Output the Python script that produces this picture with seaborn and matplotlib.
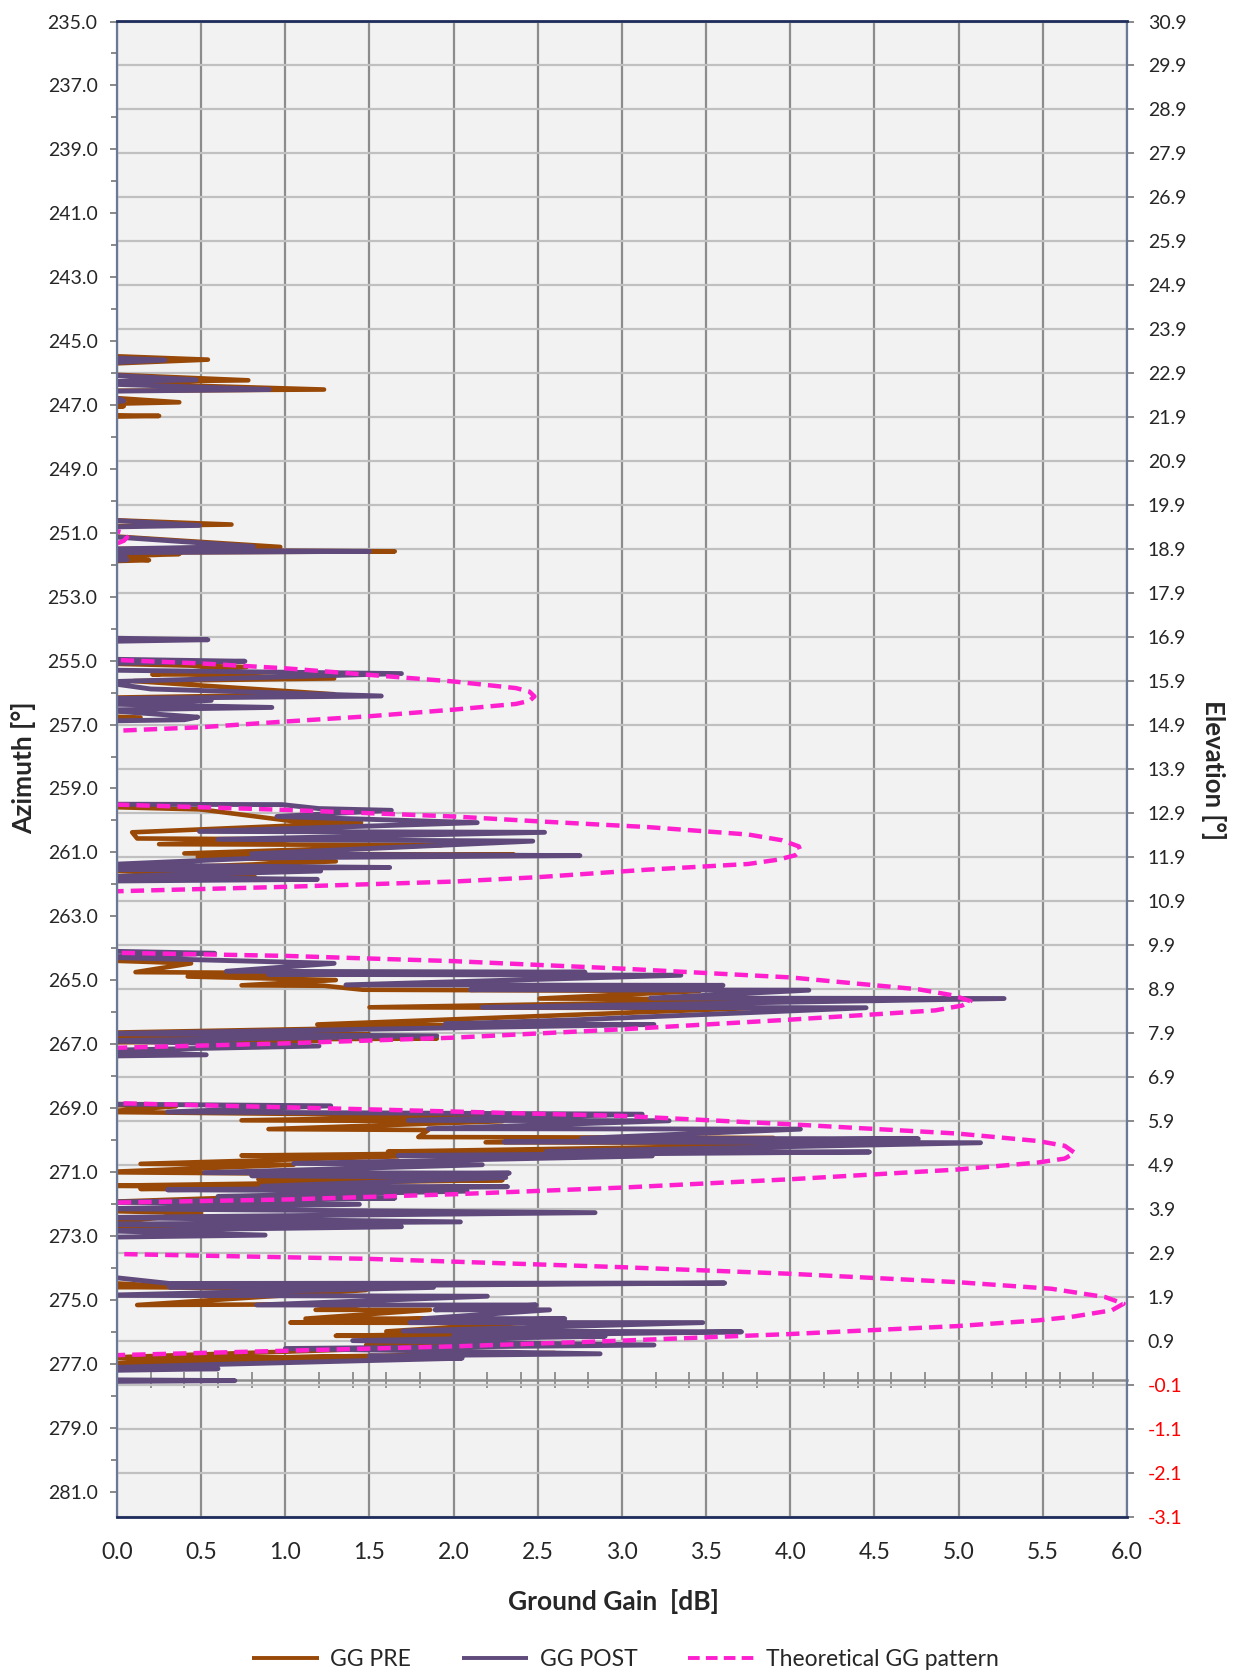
import numpy as np
import pandas as pd
import matplotlib
matplotlib.use("Agg")
import matplotlib.pyplot as plt
import seaborn as sns
from matplotlib.ticker import FixedLocator, FormatStrFormatter

# ground gain [dB] against elevation [deg], points in trace order
# (negative gains fall outside the plot area and are clipped, as in the source)
pre_gain = [
    -0.1, 0.54, -0.1, -0.1, 0.78, -0.1, -0.1, 1.23, -0.1, -0.1, 0.37, -0.1, 0.04, -0.1, -0.1, 0.25, -0.1,
    -0.6, -0.6,
    -0.1, 0.68, -0.1, -0.1, 0.97, -0.1, -0.1, 1.65, -0.1, 0.37, -0.1, 0.19, -0.1,
    -0.6, -0.6,
    -0.1, 0.77, 0.21, 0.42, 1.29, 0.10, 1.29, -0.1, -0.1, 0.14, -0.1,
    -0.6, -0.6,
    -0.1, 0.5, 1.03, 1.45, 0.09, 0.12, 1.1, 0.25, 1.93, 0.40, 2.36, 0.48, 1.3, -0.1, 0.82, -0.1,
    -0.6, -0.6,
    -0.1, 0.44, 0.11, 1.5, 0.42, 1.3, 0.74, 1.23, 1.46, 3.46, 2.51, 4.3, 1.50, 3.75, 1.19, 2.35,
    -0.1, 1.5, -0.1, 1.9, 0.3, 1.2, -0.1,
    -0.6, -0.6,
    -0.1, 0.35, -0.1, 2.29, 0.74, 2.29, 0.90, 1.85, 1.79, 3.9, 2.19, 4.75, 1.61, 2.53, 0.74, 1.67,
    0.14, 1.05, -0.1, 0.9, 0.84, 2.29, -0.1, 0.86, 0.14, 2.0, -0.1, 1.17, -0.1, 0.5, -0.1, 0.68, -0.1,
    -0.6, -0.6,
    -0.1, 0.31, 2.88, -0.1, 0.31, 1.48, 0.12, 1.48, 1.18, 1.86, 1.12, 1.85, 1.03, 2.4, 1.60, 2.9,
    1.30, 2.2, 1.48, 2.2, -0.1, 0.49, 2.0, -0.1, 0.49, 2.6,
]
pre_elev = [
    23.30, 23.21, 23.11, 22.88, 22.74, 22.70, 22.68, 22.53, 22.50, 22.36, 22.24, 22.20, 22.15, 22.10, 21.95, 21.93, 21.91,
    21.5, 19.7,
    19.57, 19.46, 19.42, 19.21, 18.95, 18.90, 18.88, 18.85, 18.82, 18.79, 18.72, 18.65, 18.62,
    18.4, 16.4,
    16.30, 16.22, 16.05, 16.05, 15.96, 15.90, 15.60, 15.52, 15.10, 15.07, 14.98,
    14.8, 13.1,
    13.04, 12.98, 12.72, 12.68, 12.46, 12.32, 12.30, 12.19, 12.17, 11.98, 11.95, 11.90, 11.80, 11.60, 11.44, 11.38,
    11.0, 9.6,
    9.55, 9.48, 9.28, 9.25, 9.18, 9.10, 8.98, 8.97, 8.88, 8.85, 8.68, 8.66, 8.48, 8.46, 8.09, 8.07,
    7.90, 7.86, 7.80, 7.77, 7.74, 7.72, 7.68,
    7.3, 6.3,
    6.26, 6.23, 6.10, 6.01, 5.91, 5.89, 5.71, 5.69, 5.53, 5.51, 5.41, 5.39, 5.20, 5.18, 5.11, 5.09,
    4.92, 4.90, 4.73, 4.70, 4.57, 4.55, 4.42, 4.40, 4.35, 4.32, 4.05, 4.02, 3.85, 3.80, 3.55, 3.51, 3.45,
    3.0, 2.3,
    2.22, 2.14, 2.20, 2.12, 2.11, 2.05, 1.71, 1.73, 1.60, 1.60, 1.40, 1.40, 1.31, 1.30, 1.11, 1.10,
    1.01, 1.00, 0.80, 0.80, 0.51, 0.50, 0.56, 0.37, 0.49, 0.62,
]

post_gain = [
    -0.1, 0.285, -0.1, -0.1, 0.47, -0.1, -0.1, 0.905, -0.1, 0.04, -0.1,
    -0.6, -0.6,
    -0.1, 0.49, -0.1, -0.1, 0.81, -0.1, -0.1, 1.50, -0.1, 0.05, -0.1, 0.06, -0.1,
    -0.6, -0.6,
    -0.1, 0.54, -0.1, -0.1, 0.76, -0.1, -0.1, 1.69, -0.1, 0.2, 1.57, -0.1, 0.56, -0.1, 0.92, -0.1, 0.48, 0.40, -0.1,
    -0.6, -0.6,
    -0.1, 0.98, 1.2, 1.63, 0.95, 2.14, 0.49, 2.54, 0.6, 2.47, 0.80, 2.75, 0.87, -0.1, 1.62, -0.1, 1.21, -0.1, 1.19, -0.1,
    -0.6, -0.6,
    -0.1, 0.58, -0.1, 1.29, 0.65, 2.78, 0.9, 3.35, 1.36, 3.60, 2.10, 4.11, 3.17, 5.27, 2.17, 4.45, 2.75, 1.95, 3.19,
    -0.1, 1.90, -0.1, 1.20, -0.1, 0.53, -0.1,
    -0.6, -0.6,
    -0.1, 1.27, 0.3, 3.12, 1.73, 3.28, 1.85, 4.06, 2.76, 4.76, 2.3, 5.13, 2.55, 4.47, 1.67, 3.18, 1.05, 2.17,
    0.52, 2.33, 0.8, 2.31, 0.86, 2.32, 0.3, 2.08, 0.6, 1.65, -0.1, 1.44, -0.1, 2.84, -0.1, 2.04, -0.1, 1.69,
    -0.1, 0.88, -0.1,
    -0.6, -0.6,
    -0.1, 0.31, 3.61, 0.31, 1.88, -0.1, 2.20, 0.83, 2.49, 1.89, 2.57, 1.82, 2.66, 1.74, 3.48, 1.7, 3.71,
    2.0, 2.9, 1.4, 3.19, 1.0, 2.87, 1.5, 2.05, 0.6, -0.1, 0.6, -0.1,
    -0.6, -0.1, 0.70, -0.1,
]
post_elev = [
    23.26, 23.20, 23.13, 22.87, 22.75, 22.71, 22.66, 22.53, 22.49, 22.27, 22.22,
    21.5, 19.7,
    19.57, 19.44, 19.40, 19.20, 18.96, 18.90, 18.88, 18.85, 18.82, 18.72, 18.69, 18.66, 18.63,
    18.4, 17.0,
    16.88, 16.84, 16.80, 16.40, 16.35, 16.30, 16.15, 16.07, 15.88, 15.72, 15.56, 15.50, 15.46, 15.38, 15.30, 15.24, 15.08, 15.02, 14.99,
    14.8, 13.2,
    13.10, 13.09, 13.00, 12.96, 12.82, 12.68, 12.48, 12.46, 12.30, 12.26, 11.97, 11.93, 11.88, 11.72, 11.66, 11.62, 11.58, 11.45, 11.39, 11.35,
    11.0, 9.8,
    9.76, 9.71, 9.62, 9.48, 9.30, 9.28, 9.23, 9.21, 8.99, 8.98, 8.88, 8.87, 8.69, 8.68, 8.48, 8.47, 8.20, 8.10, 8.09,
    7.88, 7.83, 7.72, 7.60, 7.50, 7.40, 7.37,
    7.0, 6.3,
    6.28, 6.24, 6.10, 6.05, 5.91, 5.90, 5.72, 5.71, 5.50, 5.49, 5.42, 5.40, 5.20, 5.19, 5.11, 5.10, 4.93, 4.90,
    4.72, 4.71, 4.65, 4.61, 4.41, 4.40, 4.33, 4.30, 4.18, 4.14, 4.05, 4.00, 3.90, 3.81, 3.70, 3.60, 3.55, 3.49,
    3.40, 3.30, 3.25,
    2.6, 2.4,
    2.37, 2.20, 2.21, 2.12, 2.11, 1.93, 1.91, 1.71, 1.71, 1.60, 1.60, 1.40, 1.40, 1.31, 1.31, 1.12, 1.10,
    1.01, 1.00, 0.90, 0.80, 0.72, 0.60, 0.55, 0.50, 0.36, 0.28, 0.26, 0.22,
    0.1, 0.01, -0.01, -0.03,
]

theo_gain = [
    -0.3, 0.0, 0.04, 0.06, 0.04, 0.0, -0.3,
    -0.3, 0.0, 0.5, 1.0, 1.5, 2.0, 2.37, 2.45, 2.48, 2.45, 2.37, 2.0, 1.5, 1.0, 0.5, 0.0, -0.3,
    -0.3, 0.0, 1.0, 2.0, 2.5, 3.15, 3.75, 3.95, 4.05, 4.06, 4.03, 3.93, 3.75, 3.15, 2.5, 2.0, 1.0, 0.0, -0.3,
    -0.3, 0.0, 1.0, 2.0, 3.0, 4.0, 4.76, 4.97, 5.07, 5.02, 4.86, 4.5, 4.0, 3.0, 2.0, 1.0, 0.0, -0.3,
    -0.3, 0.0, 1.49, 3.0, 4.0, 4.99, 5.47, 5.63, 5.69, 5.63, 5.47, 4.99, 4.0, 3.0, 2.01, 1.01, 0.0, -0.3,
    -0.3, 0.0, 1.49, 3.0, 4.0, 4.99, 5.55, 5.87, 5.98, 5.91, 5.67, 5.47, 4.99, 4.0, 3.0, 2.01, 1.01, 0.0,
]
theo_elev = [
    19.40, 19.31, 19.27, 19.17, 19.09, 19.03, 18.90,
    16.50, 16.38, 16.30, 16.19, 16.04, 15.89, 15.74, 15.66, 15.55, 15.45, 15.38, 15.25, 15.10, 14.98, 14.85, 14.77, 14.65,
    13.20, 13.09, 12.97, 12.82, 12.71, 12.58, 12.41, 12.28, 12.14, 12.04, 11.94, 11.84, 11.74, 11.61, 11.44, 11.34, 11.22, 11.12, 11.00,
    9.85, 9.72, 9.65, 9.53, 9.36, 9.16, 8.89, 8.75, 8.62, 8.52, 8.41, 8.32, 8.20, 7.98, 7.79, 7.66, 7.56, 7.45,
    6.42, 6.30, 6.16, 6.01, 5.82, 5.61, 5.44, 5.33, 5.17, 5.04, 4.95, 4.79, 4.57, 4.38, 4.23, 4.11, 4.04, 3.92,
    3.00, 2.87, 2.76, 2.57, 2.42, 2.23, 2.08, 1.89, 1.74, 1.59, 1.44, 1.36, 1.23, 1.05, 0.90, 0.77, 0.67, 0.57,
]

gain_ticks = np.arange(0, 6.01, 0.5)
az_labels = np.arange(235, 282, 2)
az_minor = np.arange(236, 282, 2)
elev_ticks = np.round(np.arange(-3.1, 31.0, 1.0), 1)

BROWN = "#984807"
PURPLE = "#5f4a7b"
MAGENTA = "#ff1fce"

sns.set_theme(style="white")
plt.rcParams["font.family"] = ["Lato", "DejaVu Sans"]

fig = plt.figure(figsize=(12.35, 16.76), dpi=100)
ax = fig.add_axes([117 / 1235, 1 - 1516.5 / 1676, 1010 / 1235, 1495 / 1676])
ax.set_facecolor("#f2f2f2")
ax2 = ax.twinx()

pre = pd.DataFrame({"gain": pre_gain, "elev": pre_elev})
post = pd.DataFrame({"gain": post_gain, "elev": post_elev})
theo = pd.DataFrame({"gain": theo_gain, "elev": theo_elev})

sns.lineplot(data=pre, x="gain", y="elev", sort=False, estimator=None, ax=ax2,
             color=BROWN, lw=3.3, solid_capstyle="round", solid_joinstyle="round", label="GG PRE")
sns.lineplot(data=post, x="gain", y="elev", sort=False, estimator=None, ax=ax2,
             color=PURPLE, lw=3.5, solid_capstyle="round", solid_joinstyle="round", label="GG POST")
sns.lineplot(data=theo, x="gain", y="elev", sort=False, estimator=None, ax=ax2,
             color=MAGENTA, lw=3.2, linestyle=(0, (3.0, 1.6)), dash_joinstyle="round",
             label="Theoretical GG pattern")

# axes ranges
ax.set_xlim(0, 6)
ax.set_ylim(281.78, 235)
ax2.set_ylim(-3.1, 30.9)
ax2.set_xlim(0, 6)

# gain axis
ax.xaxis.set_major_locator(FixedLocator(gain_ticks))
ax.xaxis.set_major_formatter(FormatStrFormatter("%.1f"))
ax.tick_params(axis="x", length=0, pad=18, labelsize=16.5)
ax.grid(axis="x", color="#8c8c8c", lw=1.6)
ax.grid(axis="y", visible=False)

# azimuth axis (left)
ax.yaxis.set_major_locator(FixedLocator(az_labels))
ax.yaxis.set_minor_locator(FixedLocator(az_minor))
ax.yaxis.set_major_formatter(FormatStrFormatter("%.1f"))
ax.tick_params(axis="y", which="major", left=True, direction="out", length=5, width=1.3,
               color="#808080", labelsize=14, pad=9)
ax.tick_params(axis="y", which="minor", left=True, direction="out", length=4, width=1.3, color="#808080")

# elevation axis (right)
ax2.yaxis.set_major_locator(FixedLocator(elev_ticks))
ax2.yaxis.set_major_formatter(FormatStrFormatter("%.1f"))
ax2.tick_params(axis="y", right=True, direction="out", length=5, width=1.3,
                color="#808080", labelsize=14, pad=10)
ax2.grid(axis="y", color="#c0c0c0", lw=1.6)
ax2.grid(axis="x", visible=False)
for lab in ax2.get_yticklabels():
    if lab.get_text().startswith("-"):
        lab.set_color("#ff0000")

ax.set_xlabel("")
ax.set_ylabel("")
ax2.set_xlabel("")
ax2.set_ylabel("")

for sp in ax.spines.values():
    sp.set_visible(False)
for side in ["left", "right"]:
    ax2.spines[side].set_color("#6b7896")
    ax2.spines[side].set_linewidth(1.6)
for side in ["top", "bottom"]:
    ax2.spines[side].set_color("#1f2d5c")
    ax2.spines[side].set_linewidth(2.0)

# secondary gain axis crossing at elevation 0
lo, hi = ax2.get_ylim()
sec = ax2.secondary_xaxis((0 - lo) / (hi - lo))
sec.xaxis.set_major_locator(FixedLocator(np.arange(0.2, 5.9, 0.2)))
sec.tick_params(axis="x", direction="inout", length=12, width=1.3, color="#8c8c8c",
                labelbottom=False, labeltop=False)
for sp in sec.spines.values():
    sp.set_color("#8c8c8c")
    sp.set_linewidth(1.8)

# titles
fig.text(613 / 1235, 1 - 1601 / 1676, "Ground Gain  [dB]", ha="center", va="center",
         fontsize=19, fontweight="bold")
fig.text(23.5 / 1235, 1 - 768 / 1676, "Azimuth [°]", ha="center", va="center",
         rotation=90, fontsize=19, fontweight="bold")
fig.text(1213.5 / 1235, 1 - 770 / 1676, "Elevation [°]", ha="center", va="center",
         rotation=270, fontsize=18.5, fontweight="bold")

handles, labels = ax2.get_legend_handles_labels()
if ax2.get_legend() is not None:
    ax2.get_legend().remove()
leg = fig.legend(handles, labels, loc="center", bbox_to_anchor=(0.5065, 0.0101), ncol=3,
                 frameon=False, fontsize=16.5, handlelength=2.9, handletextpad=0.5,
                 columnspacing=2.2)
for h in leg.get_lines():
    h.set_linewidth(2.8)
    h.set_solid_capstyle("butt")

fig.savefig("out.png", dpi=100)
